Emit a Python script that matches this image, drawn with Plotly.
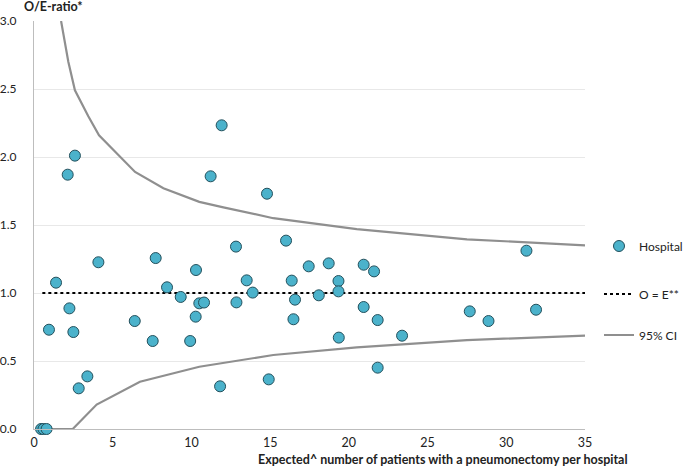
import plotly.graph_objects as go

# Hospital data (expected number, O/E ratio)
hosp_x = [0.45, 0.6, 0.8, 0.95, 1.40, 2.14, 2.25, 2.50, 2.60, 2.84, 3.39, 4.09, 6.40, 7.54, 7.73,
          8.45, 9.32, 9.92, 10.27, 10.29, 10.5, 10.8, 11.22, 11.82, 11.92, 12.83, 12.86, 13.51,
          13.89, 14.80, 14.91, 16.01, 16.37, 16.48, 16.58, 17.45, 18.09, 18.72, 19.34, 19.34,
          19.36, 20.94, 20.94, 21.60, 21.83, 21.83, 23.38, 27.68, 28.87, 31.28, 31.89]
hosp_y = [0, 0, 0, 0.730, 1.076, 1.87, 0.887, 0.713, 2.01, 0.299, 0.387, 1.226, 0.794, 0.647, 1.257,
          1.042, 0.971, 0.647, 0.826, 1.169, 0.924, 0.93, 1.858, 0.314, 2.233, 1.341, 0.931, 1.093,
          1.003, 1.730, 0.365, 1.385, 1.091, 0.807, 0.951, 1.196, 0.983, 1.218, 1.088, 1.012,
          0.672, 1.208, 0.897, 1.159, 0.801, 0.451, 0.686, 0.865, 0.794, 1.311, 0.877]

# 95% CI limits
ci_up_x = [1.72, 2.18, 2.6, 3.45, 4.13, 5.63, 6.42, 8.22, 10.5, 12.03, 15.2, 20.5, 27.5, 35]
ci_up_y = [3.0, 2.70, 2.49, 2.30, 2.16, 1.98, 1.89, 1.77, 1.67, 1.63, 1.55, 1.47, 1.395, 1.35]
ci_lo_x = [0.6, 2.46, 3.98, 6.73, 10.5, 15.2, 20.5, 27.5, 35]
ci_lo_y = [0, 0, 0.18, 0.348, 0.458, 0.544, 0.60, 0.654, 0.686]

# O = E reference line
ref_x = [0.53, 35]
ref_y = [1, 1]

x_ticks = [0, 5, 10, 15, 20, 25, 30, 35]
y_ticks = [0, 0.5, 1.0, 1.5, 2.0, 2.5, 3.0]

FONT = "Lato"
CI_COLOR = "#8f8f8f"
PW, PH, L0, B0 = 551, 408, 34, 429


def px_x(p):
    return (p - L0) / PW


def px_y(p):
    return (B0 - p) / PH


fig = go.Figure()
fig.add_trace(go.Scatter(
    x=ci_up_x, y=ci_up_y, mode="lines", name="95% CI", legend="legend3",
    line=dict(color=CI_COLOR, width=2.2), showlegend=True, hoverinfo="skip"))
fig.add_trace(go.Scatter(
    x=ci_lo_x, y=ci_lo_y, mode="lines", name="95% CI", legend="legend3",
    line=dict(color=CI_COLOR, width=2.2), showlegend=False, hoverinfo="skip"))
fig.add_trace(go.Scatter(
    x=ref_x, y=ref_y, mode="lines", name="O = E**", legend="legend2", showlegend=True,
    line=dict(color="black", width=2, dash="dot")))
fig.add_trace(go.Scatter(
    x=hosp_x, y=hosp_y, mode="markers", name="Hospital", legend="legend", showlegend=True,
    marker=dict(size=11, color="#4BB2CB", line=dict(color="#23505c", width=1)),
    cliponaxis=False))

leg_common = dict(x=px_x(599), xanchor="left", yanchor="middle",
                  font=dict(family=FONT, size=12, color="#222"),
                  itemwidth=30, bgcolor="rgba(0,0,0,0)", borderwidth=0)

fig.update_layout(
    width=685, height=474,
    showlegend=True,
    margin=dict(l=34, r=100, t=21, b=45, autoexpand=False),
    paper_bgcolor="white", plot_bgcolor="white",
    font=dict(family=FONT, size=12, color="#222"),
    legend=dict(y=px_y(246), **leg_common),
    legend2=dict(y=px_y(294), **leg_common),
    legend3=dict(y=px_y(335), **leg_common),
    xaxis=dict(
        range=[0, 35], tickvals=x_ticks, showgrid=False, zeroline=False, automargin=False,
        showline=True, linecolor="#bdbdbd", linewidth=1.2,
        ticks="", ticklabelstandoff=2, tickfont=dict(size=12.5)),
    yaxis=dict(
        range=[0, 3.0], tickvals=y_ticks, tickformat=".1f", automargin=False,
        showgrid=True, gridcolor="#e8e8e8", gridwidth=1, zeroline=False,
        showline=True, linecolor="#bdbdbd", linewidth=1.2,
        ticks="", ticklabelstandoff=14, tickfont=dict(size=12)),
    annotations=[
        dict(text="<b>O/E-ratio*</b>", xref="paper", yref="paper",
             x=px_x(22), y=px_y(7), xanchor="left", yanchor="middle",
             showarrow=False, font=dict(family=FONT, size=12.5, color="#222")),
        dict(text="<b>Expected^ number of patients with a pneumonectomy per hospital</b>",
             xref="paper", yref="paper", x=px_x(443), y=px_y(459),
             xanchor="center", yanchor="middle", showarrow=False,
             font=dict(family=FONT, size=12.5, color="#222")),
    ],
)

fig.write_html("out.html", config={"displayModeBar": False},
               post_script="document.body.style.margin='0px';")
